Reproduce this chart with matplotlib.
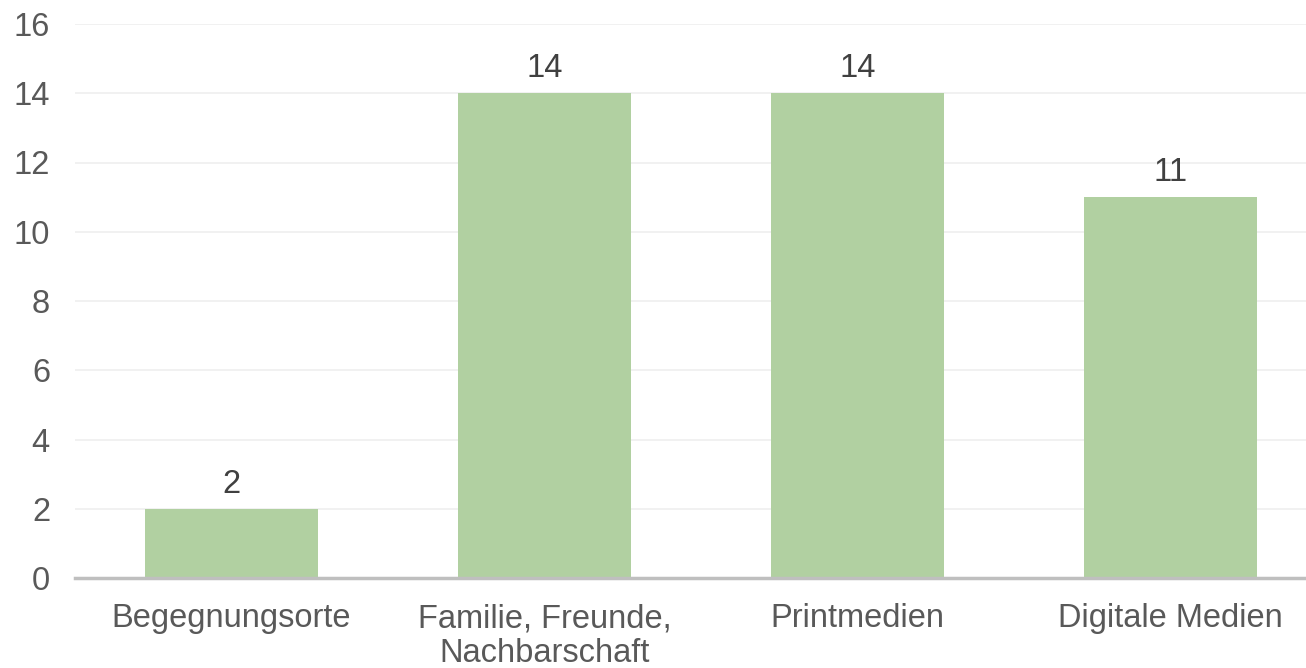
import matplotlib
matplotlib.use("Agg")
import matplotlib.pyplot as plt

categories = ["Begegnungsorte", "Familie, Freunde,\nNachbarschaft", "Printmedien", "Digitale Medien"]
values = [2, 14, 14, 11]
yticks = [0, 2, 4, 6, 8, 10, 12, 14, 16]

plt.rcParams['font.family'] = ['Liberation Sans', 'DejaVu Sans']
text_col = '#595959'

fig = plt.figure(figsize=(13.06, 6.68), dpi=100)
# axes runs a bit past the right edge, like the original clipped chart
ax = fig.add_axes([75 / 1306, 90 / 668, 1252 / 1306, 554 / 668])

x = range(len(categories))
bars = ax.bar(x, values, width=0.553, color='#b1d0a1', zorder=3)

for b, v in zip(bars, values):
    ax.annotate(str(v), (b.get_x() + b.get_width() / 2, v), xytext=(0, 9),
                textcoords='offset pixels', ha='center', va='bottom',
                fontsize=23.5, color='#404040')

ax.set_xlim(-0.5, len(categories) - 0.5)
ax.set_ylim(0, 16)
ax.set_yticks(yticks)
ax.set_xticks(list(x))
ax.set_xticklabels(categories, linespacing=1.15)
ax.tick_params(axis='both', length=0, labelsize=23.5, labelcolor=text_col)
ax.tick_params(axis='x', pad=18)
ax.tick_params(axis='y', pad=18)
ax.grid(axis='y', color='#efefef', linewidth=1.2, zorder=0)

for s in ['top', 'right', 'left']:
    ax.spines[s].set_visible(False)
ax.spines['bottom'].set_color('#bfbfbf')
ax.spines['bottom'].set_linewidth(2.5)
ax.spines['bottom'].set_zorder(4)

fig.savefig('out.png', dpi=100)
